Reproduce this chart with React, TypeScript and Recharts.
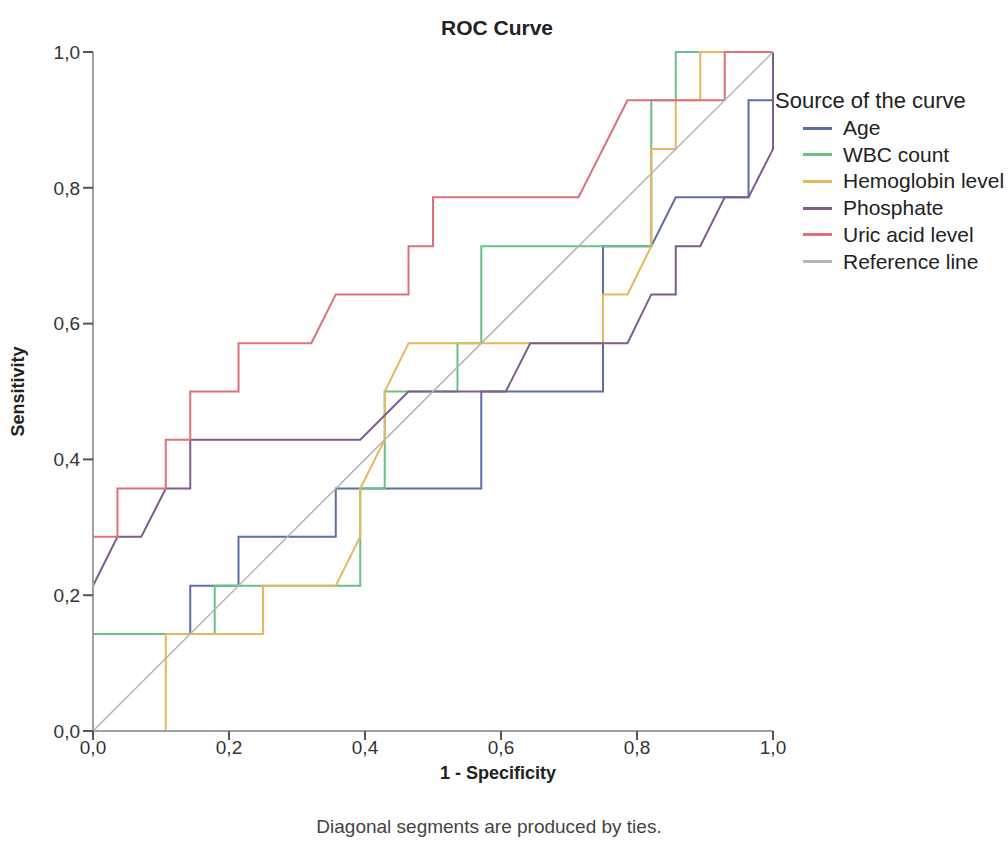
import { LineChart, Line, XAxis, YAxis } from 'recharts'

// 1 - specificity (x) and sensitivity (y) for each ROC curve
const ageX = [0, 0, 0.143, 0.143, 0.214, 0.214, 0.357, 0.357, 0.571, 0.571, 0.75, 0.75, 0.821, 0.857, 0.964, 0.964, 1, 1]
const ageY = [0, 0.143, 0.143, 0.214, 0.214, 0.286, 0.286, 0.357, 0.357, 0.5, 0.5, 0.714, 0.714, 0.786, 0.786, 0.929, 0.929, 1]

const wbcX = [0, 0, 0.179, 0.179, 0.393, 0.393, 0.429, 0.429, 0.536, 0.536, 0.571, 0.571, 0.821, 0.821, 0.857, 0.857, 1]
const wbcY = [0, 0.143, 0.143, 0.214, 0.214, 0.357, 0.357, 0.5, 0.5, 0.571, 0.571, 0.714, 0.714, 0.929, 0.929, 1, 1]

const hemoX = [0, 0.107, 0.107, 0.25, 0.25, 0.357, 0.393, 0.393, 0.429, 0.429, 0.464, 0.75, 0.75, 0.786, 0.821, 0.821, 0.857, 0.857, 0.893, 0.893, 1]
const hemoY = [0, 0, 0.143, 0.143, 0.214, 0.214, 0.286, 0.357, 0.429, 0.5, 0.571, 0.571, 0.643, 0.643, 0.714, 0.857, 0.857, 0.929, 0.929, 1, 1]

const phosX = [0, 0, 0.036, 0.071, 0.107, 0.143, 0.143, 0.393, 0.464, 0.607, 0.643, 0.786, 0.821, 0.857, 0.857, 0.893, 0.929, 0.964, 1, 1]
const phosY = [0, 0.214, 0.286, 0.286, 0.357, 0.357, 0.429, 0.429, 0.5, 0.5, 0.571, 0.571, 0.643, 0.643, 0.714, 0.714, 0.786, 0.786, 0.857, 1]

const uricX = [0, 0, 0.036, 0.036, 0.107, 0.107, 0.143, 0.143, 0.214, 0.214, 0.321, 0.357, 0.464, 0.464, 0.5, 0.5, 0.714, 0.786, 0.929, 0.929, 1]
const uricY = [0, 0.286, 0.286, 0.357, 0.357, 0.429, 0.429, 0.5, 0.5, 0.571, 0.571, 0.643, 0.643, 0.714, 0.714, 0.786, 0.786, 0.929, 0.929, 1, 1]

const refX = [0, 1]
const refY = [0, 1]

const ticks = [0, 0.2, 0.4, 0.6, 0.8, 1]

const toPoints = (xs: number[], ys: number[]) => xs.map((x, i) => ({ x, y: ys[i] }))

const series = [
  { name: 'Age', color: '#5b6ea6', width: 2, data: toPoints(ageX, ageY) },
  { name: 'WBC count', color: '#66c285', width: 2, data: toPoints(wbcX, wbcY) },
  { name: 'Hemoglobin level', color: '#e6b75e', width: 2, data: toPoints(hemoX, hemoY) },
  { name: 'Phosphate', color: '#7e5d8f', width: 2, data: toPoints(phosX, phosY) },
  { name: 'Uric acid level', color: '#df7079', width: 2, data: toPoints(uricX, uricY) },
  { name: 'Reference line', color: '#b4b4b4', width: 1.5, data: toPoints(refX, refY) },
]

const font = '"Liberation Sans", Arial, sans-serif'
const fmt = (v: number) => v.toFixed(1).replace('.', ',')

export default function App() {
  return (
    <div style={{ position: 'absolute', left: 0, top: 0, width: 1008, height: 866, background: '#fff', fontFamily: font }}>
      <LineChart width={1008} height={866} margin={{ top: 52, right: 235, left: 8, bottom: 85 }}>
        <XAxis
          type="number"
          dataKey="x"
          domain={[0, 1]}
          ticks={ticks}
          tickFormatter={fmt}
          height={50}
          tickSize={9}
          tickMargin={1}
          axisLine={{ stroke: '#a0a0a0', strokeWidth: 2 }}
          tickLine={{ stroke: '#555', strokeWidth: 2 }}
          tick={{ fontSize: 19, fill: '#333', fontFamily: font }}
          label={({ viewBox }: any) => (
            <text x={viewBox.x + viewBox.width / 2 + 65} y={viewBox.y + 48} textAnchor="middle"
              fontSize={18} fontWeight="bold" fill="#222" fontFamily={font}>1 - Specificity</text>
          )}
        />
        <YAxis
          type="number"
          dataKey="y"
          domain={[0, 1]}
          ticks={ticks}
          tickFormatter={fmt}
          width={85}
          tickSize={10}
          tickMargin={3}
          axisLine={{ stroke: '#a0a0a0', strokeWidth: 2 }}
          tickLine={{ stroke: '#555', strokeWidth: 2 }}
          tick={{ fontSize: 19, fill: '#333', fontFamily: font }}
          label={({ viewBox }: any) => {
            const cx = 18
            const cy = viewBox.y + viewBox.height / 2
            return (
              <text x={cx} y={cy} transform={`rotate(-90, ${cx}, ${cy})`} textAnchor="middle" dominantBaseline="central"
                fontSize={18} fontWeight="bold" fill="#222" fontFamily={font}>Sensitivity</text>
            )
          }}
        />
        {series.map((s) => (
          <Line
            key={s.name}
            data={s.data}
            dataKey="y"
            type="linear"
            stroke={s.color}
            strokeWidth={s.width}
            dot={false}
            activeDot={false}
            isAnimationActive={false}
          />
        ))}
      </LineChart>

      <div style={{ position: 'absolute', left: 0, width: 994, top: 16, textAlign: 'center', fontSize: 21, fontWeight: 'bold', color: '#222' }}>
        ROC Curve
      </div>

      <div style={{ position: 'absolute', left: 775, top: 88, fontSize: 22, color: '#222', whiteSpace: 'nowrap' }}>
        Source of the curve
      </div>
      {series.map((s, i) => (
        <div key={s.name} style={{ position: 'absolute', left: 803, top: 115 + i * 26.7, height: 26, display: 'flex', alignItems: 'center', whiteSpace: 'nowrap' }}>
          <div style={{ width: 29, height: 3, background: s.color }} />
          <span style={{ marginLeft: 11, fontSize: 21, color: '#222' }}>{s.name}</span>
        </div>
      ))}

      <div style={{ position: 'absolute', left: 0, width: 978, top: 816, textAlign: 'center', fontSize: 19, color: '#444' }}>
        Diagonal segments are produced by ties.
      </div>
    </div>
  )
}
